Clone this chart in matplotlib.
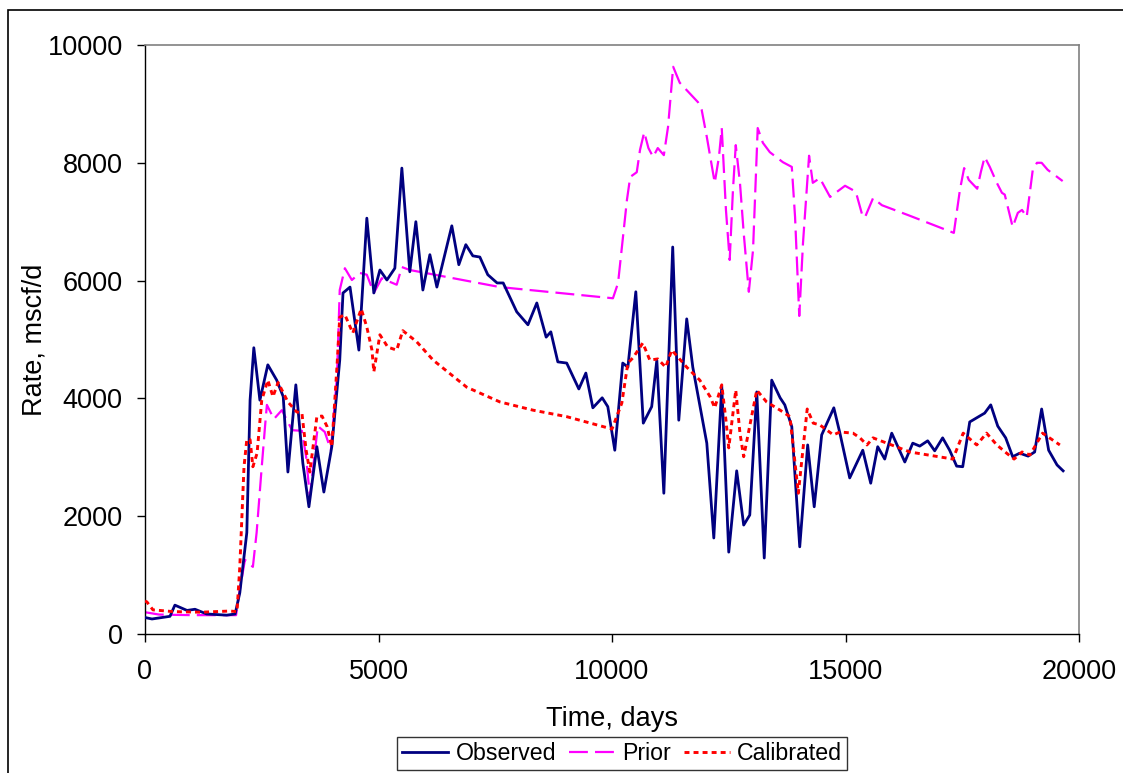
import matplotlib
matplotlib.use("Agg")
import matplotlib.pyplot as plt
from matplotlib.patches import Rectangle

plt.rcParams['font.family'] = ['Liberation Sans', 'DejaVu Sans']

# ---------------- data ----------------
obs_t = [0, 150, 535, 640, 900, 1070, 1320, 1750, 1930, 2030, 2180, 2250, 2330, 2460,
         2630, 2820, 2960, 3060, 3230, 3380, 3510, 3680, 3830, 4000, 4170, 4240, 4390,
         4580, 4750, 4900, 5030, 5180, 5350, 5500, 5670, 5800, 5950, 6100, 6250, 6570,
         6720, 6870, 7020, 7170, 7340, 7540, 7670, 7960, 8200, 8390, 8590, 8690, 8840,
         9030, 9290, 9440, 9590, 9790, 9910, 10060, 10230, 10340, 10510, 10670, 10850,
         10960, 11110, 11300, 11430, 11600, 11730, 12030, 12180, 12350, 12500, 12670,
         12820, 12950, 13100, 13260, 13420, 13600, 13700, 13850, 14020, 14190, 14330,
         14490, 14750, 14880, 15090, 15370, 15540, 15690, 15840, 15990, 16270, 16440,
         16590, 16760, 16910, 17080, 17230, 17380, 17510, 17660, 17830, 17980, 18110,
         18260, 18430, 18580, 18730, 18910, 19050, 19200, 19350, 19530, 19660]
obs_v = [280, 255, 300, 490, 400, 420, 340, 320, 340, 700, 1720, 3970, 4860, 3970,
         4570, 4310, 4030, 2750, 4230, 2900, 2160, 3180, 2410, 3180, 4650, 5790, 5890,
         4820, 7060, 5790, 6180, 6010, 6210, 7910, 6150, 7000, 5840, 6440, 5890, 6930,
         6270, 6610, 6420, 6400, 6100, 5960, 5960, 5470, 5250, 5620, 5040, 5130, 4620,
         4600, 4160, 4430, 3840, 4010, 3860, 3120, 4600, 4530, 5810, 3580, 3860,
         4650, 2390, 6570, 3630, 5350, 4530, 3240, 1630, 4210, 1390, 2770,
         1850, 2020, 4110, 1290, 4310, 4010, 3890, 3520, 1480, 3210, 2160,
         3380, 3840, 3410, 2650, 3120, 2560, 3180, 2970, 3410, 2920, 3240,
         3190, 3280, 3110, 3330, 3120, 2850, 2840, 3600, 3680, 3750, 3890,
         3530, 3330, 3010, 3070, 3020, 3090, 3820, 3120, 2870, 2770]

prior_t = [0, 300, 1000, 1950, 2030, 2140, 2310, 2390, 2500, 2570, 2610, 2760, 2930,
           3150, 3360, 3450, 3530, 3700, 3850, 3980, 4110, 4170, 4280, 4430, 4600, 4750,
           4900, 5070, 5240, 5390, 5500, 5670, 7600, 10020, 10130, 10320, 10390, 10530,
           10600, 10690, 10780, 10880, 10980, 11110, 11200, 11310, 11450, 11840, 11920,
           12030, 12200, 12290, 12350, 12440, 12520, 12590, 12650, 12740, 12820, 12930,
           13020, 13120, 13230, 13380, 13660, 13850, 13920, 14010, 14090, 14220, 14300,
           14450, 14670, 14990, 15220, 15370, 15420, 15590, 15780, 16380, 17320, 17450,
           17540, 17640, 17820, 17900, 17980, 18090, 18240, 18350, 18410, 18500, 18580,
           18690, 18780, 18880, 19010, 19100, 19200, 19330, 19650]
prior_v = [370, 330, 320, 320, 750, 1260, 1140, 1720, 2840, 3520, 3890, 3650, 3800,
           3460, 3450, 3010, 2330, 3530, 3430, 3120, 4360, 5840, 6210, 6010, 6130, 6100,
           5790, 6040, 5980, 5930, 6230, 6180, 5890, 5700, 5960, 7370, 7760, 7840,
           8220, 8520, 8250, 8100, 8250, 8130, 8610, 9630, 9360, 9030, 8900,
           8440, 7660, 8100, 8590, 7200, 6350, 7540, 8300, 7660, 6810, 5810,
           6520, 8590, 8340, 8180, 8010, 7930, 7080, 5400, 6640, 8120, 7660,
           7740, 7420, 7610, 7510, 7080, 7080, 7400, 7280, 7100, 6810, 7540,
           7910, 7710, 7560, 7850, 8100, 7930, 7660, 7490, 7460, 7170, 6910,
           7150, 7200, 7080, 7880, 8000, 8000, 7880, 7690]

cal_t = [0, 40, 170, 600, 1200, 1820, 1970, 2030, 2120, 2180, 2250, 2310, 2400, 2500,
         2630, 2740, 2850, 3060, 3250, 3360, 3450, 3530, 3680, 3790, 3900, 4000, 4110,
         4170, 4280, 4450, 4630, 4750, 4860, 4900, 5030, 5200, 5390, 5520, 5820, 6170,
         6890, 7600, 8310, 9030, 10000, 10210, 10340, 10450, 10660, 10810, 10980, 11150,
         11280, 11600, 11880, 12100, 12200, 12350, 12440, 12500, 12650, 12740, 12820,
         13100, 13310, 13600, 13810, 13990, 14180, 14310, 14450, 14740, 14880, 15160,
         15310, 15460, 15590, 16380, 17300, 17520, 17810, 18020, 18240, 18450, 18610,
         18780, 18950, 19220, 19590]
cal_v = [560, 545, 410, 380, 370, 390, 380, 1140, 2840, 3300, 3300, 2840, 3070, 3970,
         4310, 4030, 4270, 3940, 3770, 3750, 3120, 2750, 3690, 3700, 3520, 3180, 4530,
         5380, 5420, 5110, 5520, 5210, 4820, 4450, 5080, 4870, 4820, 5150, 4960, 4650,
         4190, 3940, 3800, 3690, 3480, 3920, 4600, 4690, 4940, 4650, 4670, 4530,
         4820, 4530, 4310, 4030, 3840, 4230, 3630, 3160, 4140, 3410, 3010,
         4140, 3940, 3800, 3690, 2390, 3820, 3580, 3550, 3380, 3430, 3410,
         3330, 3210, 3330, 3090, 2970, 3410, 3210, 3410, 3210, 3070, 2970,
         3090, 3040, 3410, 3210]

x_ticks = [0, 5000, 10000, 15000, 20000]
y_ticks = [0, 2000, 4000, 6000, 8000, 10000]

# ---------------- figure ----------------
W, H = 1123, 773
fig = plt.figure(figsize=(W / 100, H / 100), dpi=100)
ax = fig.add_axes([145 / W, 1 - 634 / H, (1079 - 145) / W, (634 - 45) / H])

ax.plot(obs_t, obs_v, color='#000080', lw=2.0, label='Observed',
        solid_joinstyle='round', zorder=3)
ax.plot(prior_t, prior_v, color='#FF00FF', lw=1.6, linestyle=(0, (8.5, 3.2)),
        label='Prior', zorder=2)
ax.plot(cal_t, cal_v, color='#FF0000', lw=2.1, linestyle=(0, (1.7, 1.4)),
        label='Calibrated', zorder=4)

ax.set_xlim(0, 20000)
ax.set_ylim(0, 10000)
ax.set_xticks(x_ticks)
ax.set_yticks(y_ticks)
ax.set_xticklabels([str(v) for v in x_ticks])
ax.set_yticklabels([str(v) for v in y_ticks])
ax.tick_params(axis='x', direction='out', length=6, width=1, pad=12, labelsize=19.5)
ax.tick_params(axis='y', direction='out', length=6, width=1, pad=10, labelsize=19.5)

for s in ['top', 'right']:
    ax.spines[s].set_color('#808080')
    ax.spines[s].set_linewidth(1.2)
for s in ['left', 'bottom']:
    ax.spines[s].set_color('black')
    ax.spines[s].set_linewidth(1.0)

fig.text(35 / W, 1 - 340 / H, 'Rate, mscf/d', rotation=90, ha='center', va='center',
         fontsize=19.5)
fig.text(612 / W, 1 - 719 / H, 'Time, days', ha='center', va='center', fontsize=19.5)

leg = fig.legend(loc='center', bbox_to_anchor=(622 / W, 1 - 753.5 / H), ncol=3,
                 frameon=True, fancybox=False, fontsize=16.7, handlelength=2.0,
                 handletextpad=0.3, columnspacing=0.55, borderpad=0.2,
                 borderaxespad=0)
leg.get_frame().set_edgecolor('black')
leg.get_frame().set_linewidth(1.0)

# outer chart border (partially visible)
fig.patches.append(Rectangle((8 / W, -0.2), 2.0, 1.2 - 10 / H, transform=fig.transFigure,
                             fill=False, edgecolor='black', lw=1.2, zorder=0))

fig.savefig('out.png', dpi=100)
